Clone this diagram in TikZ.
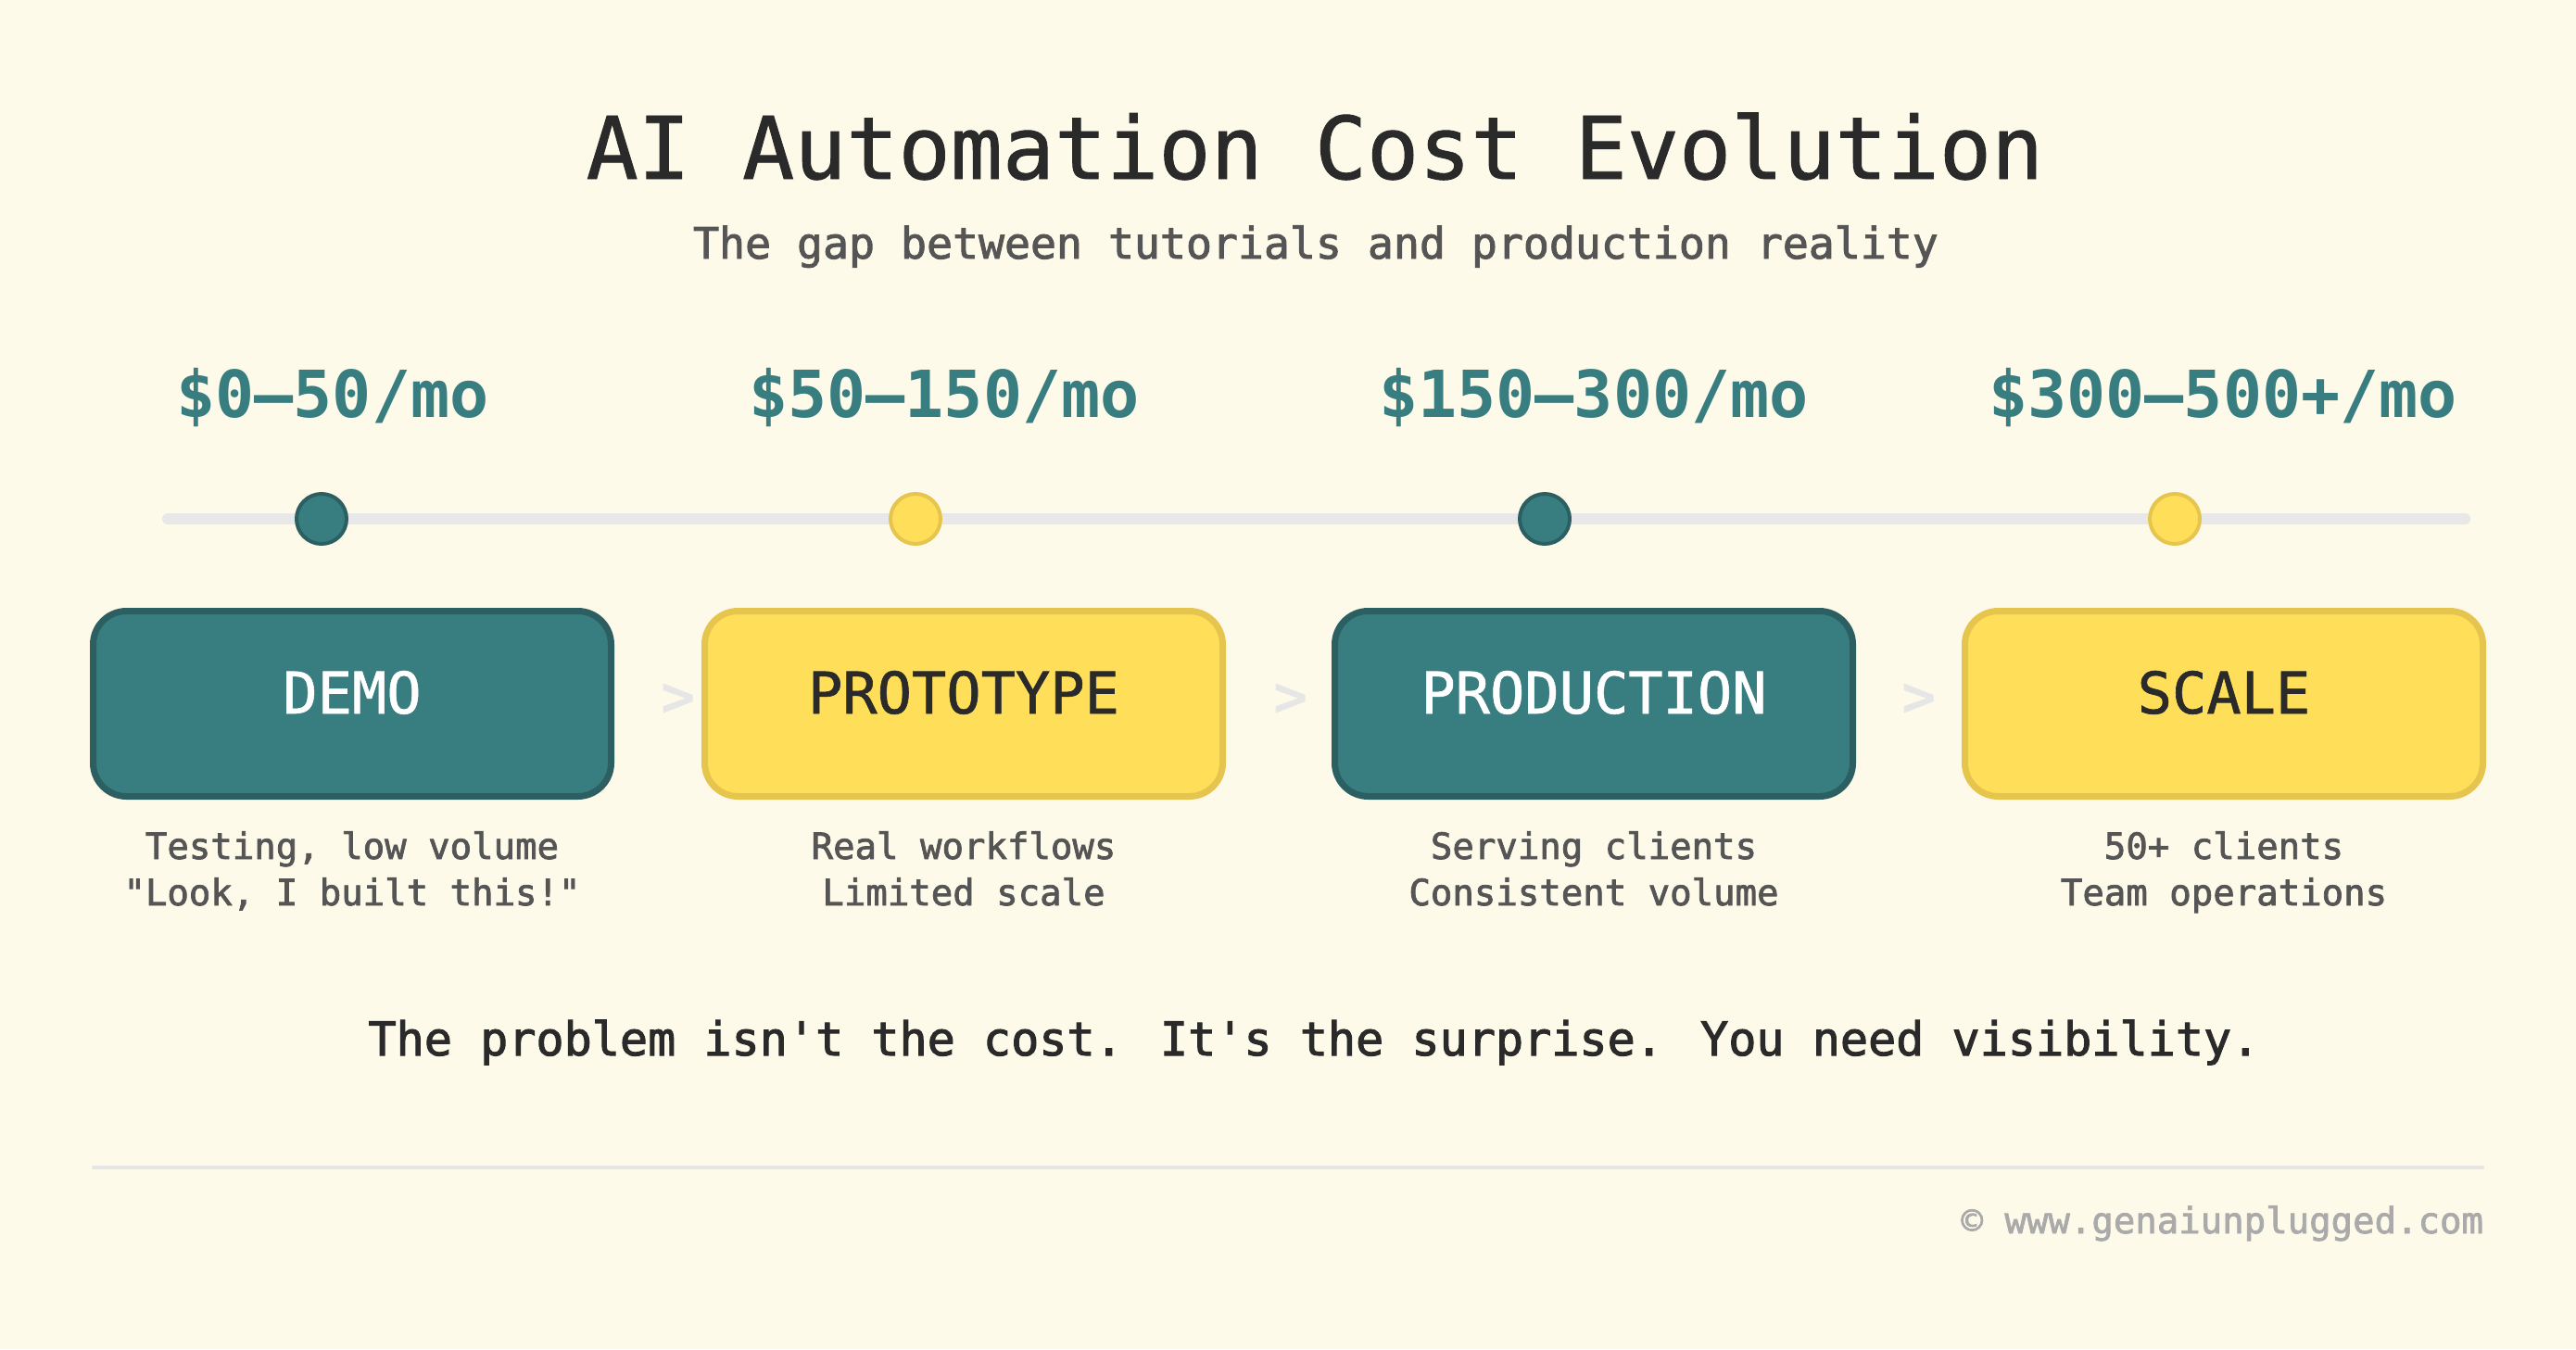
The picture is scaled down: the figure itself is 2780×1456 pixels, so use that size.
\documentclass[tikz,border=0pt]{standalone}
\usepackage{fontspec}
\newfontfamily\dvm{DejaVu Sans Mono}
\newfontfamily\dvmh{DejaVu Sans Mono}[FakeBold=1]
\newfontfamily\dvmm{DejaVu Sans Mono}[FakeBold=2]
\definecolor{bgc}{HTML}{FEFAE9}
\definecolor{tealf}{HTML}{387D80}
\definecolor{teald}{HTML}{2B5F62}
\definecolor{yelf}{HTML}{FFDE59}
\definecolor{yeld}{HTML}{E6C54E}
\definecolor{inkc}{HTML}{2A2A2A}
\definecolor{subc}{HTML}{555555}
\definecolor{trackc}{HTML}{E8E8E8}
\definecolor{chevc}{HTML}{E6E6E6}
\definecolor{footc}{HTML}{AAAAAA}
\definecolor{sepc}{HTML}{E6E6E6}
\begin{document}
\begin{tikzpicture}[x=1pt,y=-1pt,
  txt/.style={inner sep=0pt, outer sep=0pt, anchor=base},
  titlefont/.style={font={\dvmh\fontsize{93.3}{100}\selectfont}, text=inkc},
  subfont/.style={font={\dvmm\fontsize{46.5}{50}\selectfont}, text=subc},
  pricefont/.style={font={\dvm\bfseries\fontsize{70}{76}\selectfont}, text=tealf},
  labelfont/.style={font={\dvmh\fontsize{62}{68}\selectfont}},
  descfont/.style={font={\dvmm\fontsize{39}{44}\selectfont}, text=subc},
  quotefont/.style={font={\dvmm\fontsize{50.1}{56}\selectfont}, text=inkc},
  footfont/.style={font={\dvmm\fontsize{39}{44}\selectfont}, text=footc},
  chevron/.style={inner sep=0pt, font={\dvm\bfseries\fontsize{62}{68}\selectfont}, text=chevc},
  track/.style={draw=trackc, line width=12pt, line cap=round},
  sepline/.style={draw=sepc, line width=4pt, line cap=round},
  dot/.style={circle, line width=4pt, minimum size=54pt, inner sep=0pt},
  tealdot/.style={dot, fill=tealf, draw=teald},
  yeldot/.style={dot, fill=yelf, draw=yeld},
  stage/.style={rectangle, rounded corners=36pt, line width=7pt, minimum width=559pt, minimum height=200pt, inner sep=0pt},
  tealstage/.style={stage, fill=tealf, draw=teald},
  yelstage/.style={stage, fill=yelf, draw=yeld},
]
\fill[bgc] (0,0) rectangle (2780,1456);
\useasboundingbox (0,0) rectangle (2780,1456);

% title
\node[txt, titlefont] (title) at (1419,193) {AI Automation Cost Evolution};
\node[txt, subfont] (subtitle) at (1420,279) {The gap between tutorials and production reality};

% prices
\node[txt, pricefont] (p1) at (359,450) {\$0–50/mo};
\node[txt, pricefont] (p2) at (1019,450) {\$50–150/mo};
\node[txt, pricefont] (p3) at (1720,450) {\$150–300/mo};
\node[txt, pricefont] (p4) at (2399,450) {\$300–500+/mo};

% timeline
\coordinate (tl) at (181,560);
\coordinate (tr) at (2660,560);
\draw[track] (tl) -- (tr);
\node[tealdot] (d1) at (347,560) {};
\node[yeldot]  (d2) at (988,560) {};
\node[tealdot] (d3) at (1667,560) {};
\node[yeldot]  (d4) at (2347,560) {};

% stages
\node[tealstage] (b1) at (380,759.5) {};
\node[yelstage]  (b2) at (1040,759.5) {};
\node[tealstage] (b3) at (1720,759.5) {};
\node[yelstage]  (b4) at (2400,759.5) {};

\node[txt, labelfont, text=white] (l1) at (b1.center |- 0,770) {DEMO};
\node[txt, labelfont, text=inkc]  (l2) at (b2.center |- 0,770) {PROTOTYPE};
\node[txt, labelfont, text=white] (l3) at (b3.center |- 0,770) {PRODUCTION};
\node[txt, labelfont, text=inkc]  (l4) at (b4.center |- 0,770) {SCALE};

% chevrons
\node[chevron] (c1) at (732,756) {>};
\node[chevron] (c2) at (1393,756) {>};
\node[chevron] (c3) at (2071,756) {>};

% descriptions
\node[txt, descfont] (s1a) at (b1.center |- 0,927) {Testing, low volume};
\node[txt, descfont] (s1b) at (b1.center |- 0,977) {"Look, I built this!"};
\node[txt, descfont] (s2a) at (b2.center |- 0,927) {Real workflows};
\node[txt, descfont] (s2b) at (b2.center |- 0,977) {Limited scale};
\node[txt, descfont] (s3a) at (b3.center |- 0,927) {Serving clients};
\node[txt, descfont] (s3b) at (b3.center |- 0,977) {Consistent volume};
\node[txt, descfont] (s4a) at (b4.center |- 0,927) {50+ clients};
\node[txt, descfont] (s4b) at (b4.center |- 0,977) {Team operations};

% quote
\node[txt, quotefont] (quote) at (1418,1139) {The problem isn't the cost. It's the surprise. You need visibility.};

% separator and footer
\coordinate (sl) at (101,1260);
\coordinate (sr) at (2679,1260);
\draw[sepline] (sl) -- (sr);
\node[txt, footfont, anchor=base east] (footer) at (2680,1331) {© www.genaiunplugged.com};
\end{tikzpicture}
\end{document}
